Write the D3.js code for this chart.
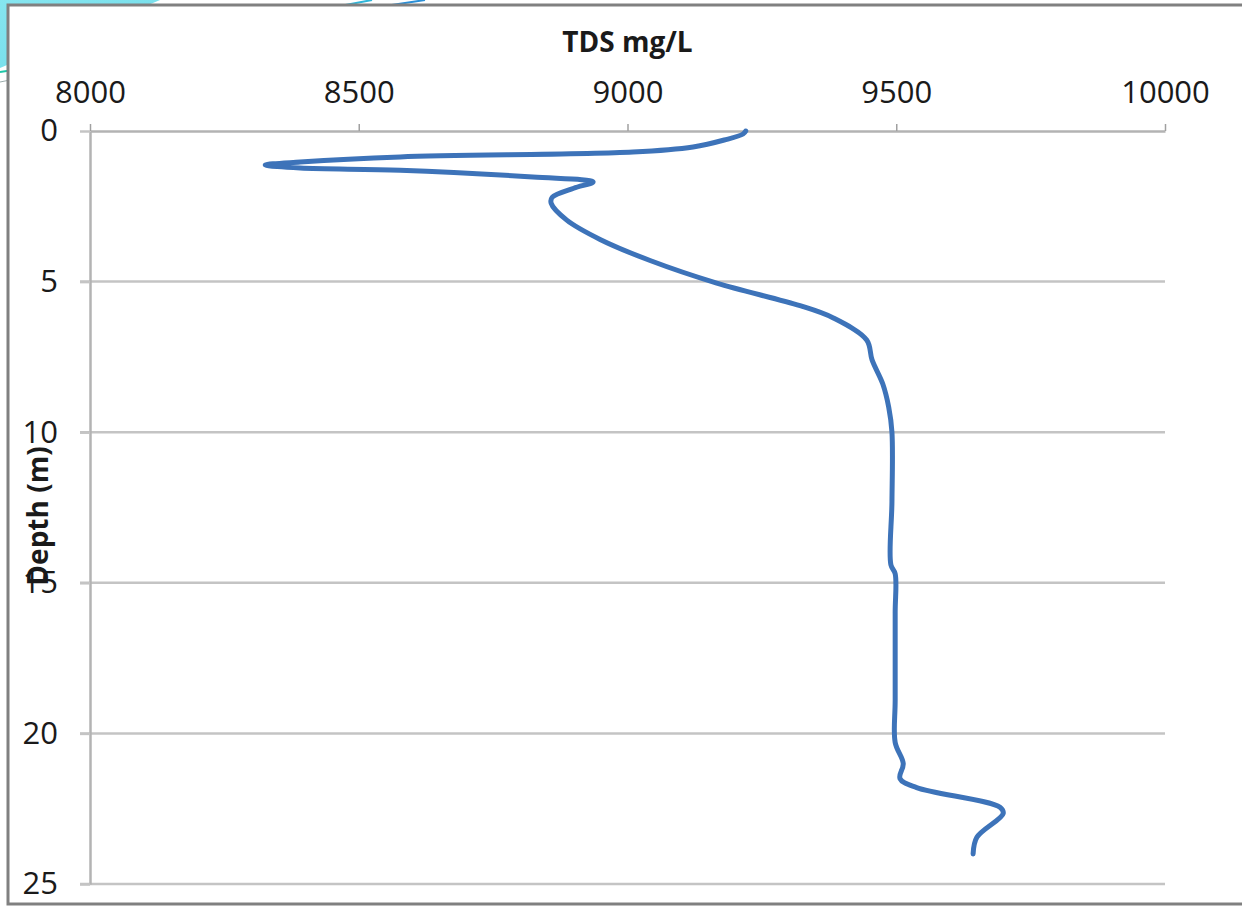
<!DOCTYPE html>
<html>
<head>
<meta charset="utf-8">
<script src="https://cdn.jsdelivr.net/npm/d3@7"></script>
<style>
  html, body { margin: 0; padding: 0; background: #fff; }
  svg { display: block; }
  text { font-family: "Open Sans", "Liberation Sans", sans-serif; fill: #1a1a1a; }
</style>
</head>
<body>
<div id="chart"></div>
<script>
// depth profile
var depth = [0, 0.1, 0.3, 0.53, 0.7, 0.86, 1.03, 1.13, 1.23, 1.3, 1.53, 1.69, 1.9, 2.2, 2.4, 2.96, 3.6, 4.3, 5.05, 5.8, 6.2, 6.94, 7.6, 8.4, 9.17, 10.0, 12.3, 14.4, 14.7, 16, 18.9, 20.3, 21.0, 21.5, 21.8, 22.45, 22.66, 23.45, 24.0]
var tds   = [9220, 9215, 9180, 9122, 9010, 8577, 8391, 8326, 8391, 8577, 8824, 8936, 8900, 8860, 8858, 8887, 8949, 9042, 9166, 9321, 9382, 9445, 9455, 9475, 9486, 9492, 9492, 9490, 9498, 9498, 9498, 9498, 9513, 9507, 9538, 9693, 9699, 9650, 9643]

var xTicks = [8000, 8500, 9000, 9500, 10000]
var yTicks = [0, 5, 10, 15, 20, 25]
var xTitle = "TDS mg/L"
var yTitle = "Depth (m)"

const W = 1242, H = 907
const m = {left: 90, right: 1165, top: 131, bottom: 884}

const svg = d3.select("#chart").append("svg")
  .attr("width", W).attr("height", H)

// decorative slide background in the corner
var grad = svg.append("defs").append("linearGradient")
  .attr("id", "cy").attr("x1", "0").attr("y1", "0").attr("x2", "1").attr("y2", "1")
grad.append("stop").attr("offset", "0").attr("stop-color", "#86e6f0")
grad.append("stop").attr("offset", "1").attr("stop-color", "#6fdbe9")
svg.append("path").attr("d", "M0,0 L160,0 L0,68 Z").attr("fill", "url(#cy)")
svg.append("path").attr("d", "M0,72 L40,66").attr("stroke", "#1fc7a8").attr("stroke-width", 2)
svg.append("path").attr("d", "M0,82 L30,76").attr("stroke", "#99aaaa").attr("stroke-width", 1)
svg.append("path").attr("d", "M340,6 L372,0").attr("stroke", "#2fb5d8").attr("stroke-width", 2)
svg.append("path").attr("d", "M385,6 L425,0").attr("stroke", "#2a8fd6").attr("stroke-width", 2)

// chart frame
svg.append("rect")
  .attr("x", 8).attr("y", 5).attr("width", 1260).attr("height", 899)
  .attr("fill", "#fff").attr("stroke", "#808080").attr("stroke-width", 3)

const x = d3.scaleLinear().domain([8000, 10000]).range([m.left, m.right])
const y = d3.scaleLinear().domain([0, 25]).range([m.top, m.bottom])

// horizontal gridlines (stick out a little to the left like ticks)
svg.append("g").selectAll("line")
  .data(yTicks.slice(1))
  .enter().append("line")
  .attr("x1", m.left - 10).attr("x2", m.right)
  .attr("y1", d => y(d)).attr("y2", d => y(d))
  .attr("stroke", "#c4c4c4").attr("stroke-width", 2.5)

// top axis
const xAxis = svg.append("g")
  .attr("transform", `translate(0, ${m.top})`)
  .call(d3.axisTop(x).tickValues(xTicks).tickSize(7).tickSizeOuter(0).tickPadding(21).tickFormat(d3.format("d")))
xAxis.select(".domain").attr("stroke", "#b3b3b3").attr("stroke-width", 2.5)
xAxis.selectAll(".tick line").attr("stroke", "#a0a0a0").attr("stroke-width", 1.5)
xAxis.selectAll("text").style("font-size", "31px").attr("fill", "#222")

// left axis
const yAxis = svg.append("g")
  .attr("transform", `translate(${m.left}, 0)`)
  .call(d3.axisLeft(y).tickValues(yTicks).tickSize(10).tickSizeOuter(0).tickPadding(22))
yAxis.select(".domain").attr("stroke", "#b3b3b3").attr("stroke-width", 2.5)
yAxis.selectAll(".tick line").attr("stroke", "#c4c4c4").attr("stroke-width", 2.5)
yAxis.selectAll("text").style("font-size", "31px").attr("fill", "#222")

// titles
svg.append("text")
  .attr("x", (x(8000) + x(10000)) / 2).attr("y", 52)
  .attr("text-anchor", "middle")
  .style("font-size", "28px").style("font-weight", "bold")
  .text(xTitle)

svg.append("text")
  .attr("transform", "translate(48, 516) rotate(-90)")
  .attr("text-anchor", "middle")
  .style("font-size", "28px").style("font-weight", "bold")
  .text(yTitle)

// profile line
const pts = depth.map((d, i) => [tds[i], d])
svg.append("path")
  .datum(pts)
  .attr("fill", "none")
  .attr("stroke", "#3d73b9")
  .attr("stroke-width", 5)
  .attr("stroke-linejoin", "round")
  .attr("stroke-linecap", "round")
  .attr("d", d3.line().x(d => x(d[0])).y(d => y(d[1])).curve(d3.curveCatmullRom.alpha(0.5)))
</script>
</body>
</html>
